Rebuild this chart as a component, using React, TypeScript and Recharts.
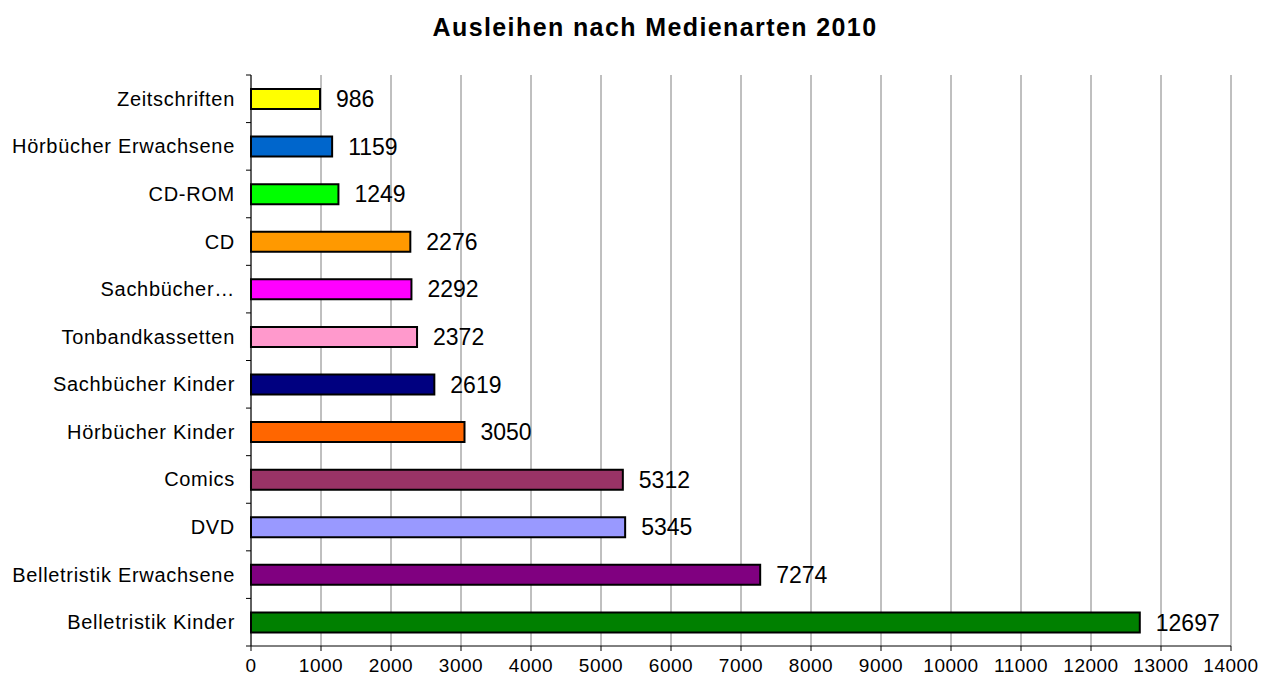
import { BarChart, Bar, XAxis, YAxis, CartesianGrid, LabelList, Cell } from 'recharts'

const categories = [
  'Zeitschriften',
  'Hörbücher Erwachsene',
  'CD-ROM',
  'CD',
  'Sachbücher…',
  'Tonbandkassetten',
  'Sachbücher Kinder',
  'Hörbücher Kinder',
  'Comics',
  'DVD',
  'Belletristik Erwachsene',
  'Belletristik Kinder',
]
const loans = [986, 1159, 1249, 2276, 2292, 2372, 2619, 3050, 5312, 5345, 7274, 12697]
const barColors = [
  '#FFFF00', '#0066CC', '#00FF00', '#FF9900', '#FF00FF', '#FF99CC',
  '#000080', '#FF6600', '#993366', '#9999FF', '#800080', '#008000',
]
const xTicks = [0, 1000, 2000, 3000, 4000, 5000, 6000, 7000, 8000, 9000, 10000, 11000, 12000, 13000, 14000]

const data = categories.map((name, i) => ({ name, value: loans[i] }))

const FONT = '"Liberation Sans", Arial, sans-serif'
const PLOT_TOP = 75
const PLOT_H = 571
const band = PLOT_H / categories.length

function CategoryTick(props: any) {
  const { x, y, payload, index } = props
  return (
    <g>
      <line x1={x + 3} x2={x + 8} y1={y - band / 2} y2={y - band / 2} stroke="#000" />
      {index === categories.length - 1 && (
        <line x1={x + 3} x2={x + 8} y1={y + band / 2} y2={y + band / 2} stroke="#000" />
      )}
      <text x={x - 8} y={y} dy={7} textAnchor="end" fontSize={20} letterSpacing={0.7} fill="#000" fontFamily={FONT}>
        {payload.value}
      </text>
    </g>
  )
}

export default function App() {
  return (
    <div style={{ position: 'fixed', top: 0, left: 0, width: 1262, height: 680, background: '#fff', overflow: 'hidden' }}>
      <div
        style={{
          position: 'absolute', top: 13, left: 48, width: 1214, textAlign: 'center',
          fontFamily: FONT, fontWeight: 'bold', fontSize: 25, letterSpacing: 1.4, color: '#000',
        }}
      >
        Ausleihen nach Medienarten 2010
      </div>
      <BarChart
        width={1262}
        height={680}
        data={data}
        layout="vertical"
        margin={{ top: PLOT_TOP, right: 31, left: 0, bottom: 0 }}
        barCategoryGap={0}
      >
        <CartesianGrid horizontal={false} stroke="#808080" strokeOpacity={1} />
        <XAxis
          type="number"
          domain={[0, 14000]}
          ticks={xTicks}
          interval={0}
          height={34}
          tick={{ fontSize: 19, letterSpacing: 0.5, fill: '#000', fontFamily: FONT }}
          tickLine={{ stroke: '#000' }}
          tickSize={5}
          tickMargin={8}
          axisLine={{ stroke: '#000' }}
        />
        <XAxis xAxisId="top" type="number" orientation="top" domain={[0, 14000]} height={0} tick={false} tickLine={false} axisLine={{ stroke: '#808080' }} />
        <YAxis
          type="category"
          dataKey="name"
          width={251}
          tick={<CategoryTick />}
          tickLine={false}
          interval={0}
          axisLine={{ stroke: '#000' }}
        />
        <YAxis yAxisId="right" type="category" dataKey="name" orientation="right" width={0} tick={false} tickLine={false} axisLine={{ stroke: '#808080', strokeWidth: 2 }} />
        <Bar dataKey="value" barSize={20} stroke="#000" strokeWidth={2} isAnimationActive={false}>
          {data.map((d, i) => (
            <Cell key={d.name} fill={barColors[i]} />
          ))}
          <LabelList dataKey="value" position="right" offset={16} fontSize={23} fill="#000" fontFamily={FONT} />
        </Bar>
      </BarChart>
    </div>
  )
}
